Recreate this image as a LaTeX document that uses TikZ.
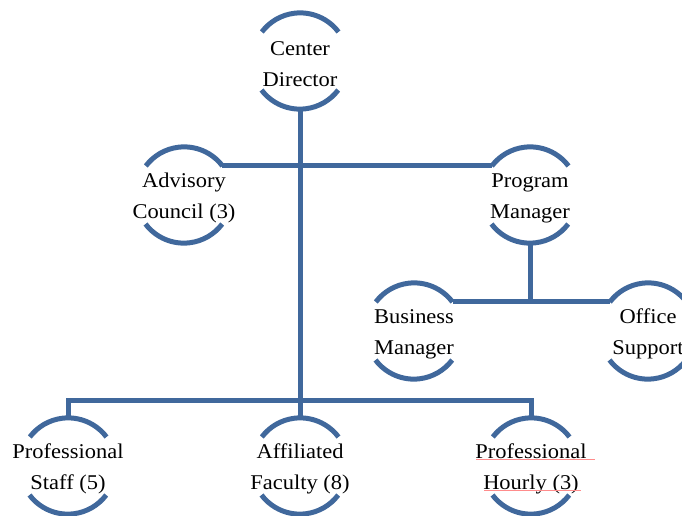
\documentclass[tikz,border=0pt]{standalone}
\usepackage{fontspec}
\setmainfont{Liberation Serif}[FakeStretch=1.07]
\definecolor{orgblue}{RGB}{64,104,156}
\begin{document}
\begin{tikzpicture}[x=1pt,y=1pt,
  unit/.style={circle, minimum size=96pt, inner sep=0pt,
    label={[font=\fontsize{21}{31}\selectfont, align=center, text=black, yshift=-3pt]center:#1}},
  conn/.style={draw=orgblue, line width=5pt},
  spell/.style={draw=red!45, line width=0.8pt}]
\useasboundingbox (0,0) rectangle (682,515);
\node[unit={Center\\Director}] (cd) at (300,454) {};
\node[unit={Advisory\\Council (3)}] (adv) at (184,320) {};
\node[unit={Program\\Manager}] (pm) at (530,320) {};
\node[unit={Business\\Manager}] (bm) at (414,184) {};
\node[unit={Office\\Support}] (os) at (648,184) {};
\node[unit={Professional\\Staff (5)}] (ps) at (68,49) {};
\node[unit={Affiliated\\Faculty (8)}] (af) at (300,49) {};
\node[unit={Professional\\Hourly (3)}] (ph) at (531,49) {};
\coordinate (bar) at (300,115);
\foreach \n in {cd,adv,pm,bm,os,ps,af,ph}{
  \draw[conn] (\n.37) arc (37:143:48pt);
  \draw[conn] (\n.217) arc (217:323:48pt);
}
\draw[conn] (cd.south) -- (af.north);
\draw[conn] (adv.37) -- (pm.143);
\draw[conn] (bm.37) -- (os.143);
\draw[conn] (pm.south) -- (pm.south |- bm.37);
\draw[conn] (ps.north) |- (bar) -| (ph.north);
\draw[spell] (476,56) -- (595,56);
\draw[spell] (484,25) -- (581,25);
\end{tikzpicture}
\end{document}
